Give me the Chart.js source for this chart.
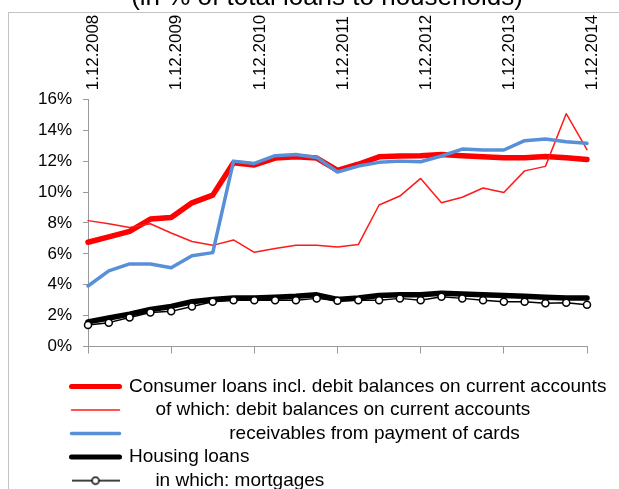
<!DOCTYPE html>
<html>
<head>
<meta charset="utf-8">
<script src="https://cdn.jsdelivr.net/npm/chart.js@4.4.0/dist/chart.umd.min.js"></script>
<style>
  html, body { margin: 0; padding: 0; background: #fff; overflow: hidden; }
  body { width: 619px; height: 489px; position: relative; }
  #frame { position: absolute; left: 8px; top: 12px; width: 700px; height: 600px;
           border-top: 1px solid #c3c3c3; border-left: 1px solid #c3c3c3; }
  #wrap { position: absolute; left: 0; top: -18px; width: 619px; height: 520px; }
</style>
</head>
<body>
<div id="frame"></div>
<div id="wrap"><canvas id="loansChart" width="619" height="520"></canvas></div>
<script>
// quarterly observations, Dec 2008 - Dec 2014
const quarters = [
  "1.12.2008", "1.3.2009", "1.6.2009", "1.9.2009",
  "1.12.2009", "1.3.2010", "1.6.2010", "1.9.2010",
  "1.12.2010", "1.3.2011", "1.6.2011", "1.9.2011",
  "1.12.2011", "1.3.2012", "1.6.2012", "1.9.2012",
  "1.12.2012", "1.3.2013", "1.6.2013", "1.9.2013",
  "1.12.2013", "1.3.2014", "1.6.2014", "1.9.2014",
  "1.12.2014"
];
const yearTicks = ["1.12.2008", "1.12.2009", "1.12.2010", "1.12.2011", "1.12.2012", "1.12.2013", "1.12.2014"];

const consumerLoans = [6.75, 7.1, 7.45, 8.25, 8.35, 9.3, 9.8, 11.9, 11.75, 12.2, 12.28, 12.2, 11.4,
  11.8, 12.28, 12.33, 12.35, 12.43, 12.35, 12.28, 12.22, 12.22, 12.3, 12.22, 12.1];
const debitBalances = [8.15, 7.95, 7.7, 7.95, 7.35, 6.8, 6.55, 6.9, 6.1, 6.35, 6.55, 6.55, 6.45,
  6.6, 9.16, 9.74, 10.88, 9.31, 9.66, 10.26, 9.97, 11.37, 11.66, 15.07, 12.74];
const cardReceivables = [3.92, 4.9, 5.35, 5.35, 5.1, 5.88, 6.08, 12.0, 11.85, 12.35, 12.43, 12.24, 11.3,
  11.68, 11.92, 12.0, 11.96, 12.33, 12.78, 12.72, 12.72, 13.32, 13.43, 13.26, 13.15];
const housingLoans = [1.6, 1.85, 2.1, 2.4, 2.6, 2.9, 3.05, 3.15, 3.15, 3.2, 3.25, 3.35, 3.05,
  3.15, 3.3, 3.35, 3.35, 3.45, 3.4, 3.35, 3.3, 3.25, 3.2, 3.15, 3.15];
const mortgages = [1.4, 1.55, 1.88, 2.2, 2.28, 2.6, 2.9, 3.0, 3.0, 3.0, 3.0, 3.12, 2.97,
  3.0, 3.0, 3.12, 3.0, 3.23, 3.12, 3.0, 2.9, 2.9, 2.8, 2.84, 2.7];

const seriesNames = [
  "Consumer loans incl. debit balances on current accounts",
  "of which: debit balances on current accounts",
  "receivables from payment of cards",
  "Housing loans",
  "in which: mortgages"
];
// indentation as in the original legend (trailing blanks keep one entry per row)
const legendText = [
  seriesNames[0],
  "     " + seriesNames[1],
  "                   " + seriesNames[2],
  seriesNames[3] + "                              ",
  "     " + seriesNames[4]
];

// legend marker for the mortgage series: thin line with an open circle
const mortgageIcon = document.createElement("canvas");
mortgageIcon.width = 48;
mortgageIcon.height = 10;
(function () {
  const c = mortgageIcon.getContext("2d");
  c.strokeStyle = "#000";
  c.lineWidth = 1.5;
  c.beginPath();
  c.moveTo(0, 5);
  c.lineTo(48, 5);
  c.stroke();
  c.fillStyle = "#fff";
  c.beginPath();
  c.arc(24, 5, 3.5, 0, Math.PI * 2);
  c.fill();
  c.stroke();
})();

// let the legend run to the right edge of the canvas, past the plot area
const widenLegend = {
  id: "widenLegend",
  afterLayout(ch) {
    const lg = ch.legend;
    if (!lg) return;
    lg.right = ch.width;
    lg.width = lg.right - lg.left;
  }
};

Chart.defaults.font.family = "'Liberation Sans', Arial, sans-serif";
Chart.defaults.color = "#000";

const axisGray = "#9a9a9a";

const ctx = document.getElementById("loansChart").getContext("2d");
const chart = new Chart(ctx, {
  type: "line",
  plugins: [widenLegend],
  data: {
    labels: quarters,
    datasets: [{
      label: seriesNames[0],
      data: consumerLoans,
      borderColor: "#ff0000",
      borderWidth: 5.5,
      legendWidth: 5,
      order: 5
    }, {
      label: seriesNames[1],
      data: debitBalances,
      borderColor: "#ff1a1a",
      borderWidth: 1.5,
      legendWidth: 1.5,
      order: 4
    }, {
      label: seriesNames[2],
      data: cardReceivables,
      borderColor: "#5890d8",
      borderWidth: 3.5,
      legendWidth: 3.5,
      order: 3
    }, {
      label: seriesNames[3],
      data: housingLoans,
      borderColor: "#000",
      borderWidth: 5.5,
      legendWidth: 5,
      order: 2
    }, {
      label: seriesNames[4],
      data: mortgages,
      borderColor: "#000",
      borderWidth: 1.5,
      legendWidth: 1.5,
      pointRadius: 3.5,
      pointBackgroundColor: "#fff",
      pointBorderColor: "#000",
      pointBorderWidth: 1.5,
      order: 1
    }]
  },
  options: {
    responsive: false,
    animation: false,
    clip: 8,
    layout: {padding: {left: 67, right: 32, top: 0, bottom: 1.9}},
    elements: {
      line: {tension: 0, borderCapStyle: "round", borderJoinStyle: "round"},
      point: {radius: 0}
    },
    scales: {
      x: {
        position: "bottom",
        ticks: {display: false, autoSkip: false},
        grid: {
          drawOnChartArea: false,
          tickLength: 7,
          color: (c) => (yearTicks.includes(quarters[c.index]) ? axisGray : "rgba(0,0,0,0)")
        },
        border: {color: axisGray},
        afterFit: (s) => { s.height = 26; }
      },
      x2: {
        type: "category",
        position: "top",
        labels: quarters,
        grid: {display: false, drawTicks: false},
        border: {display: false},
        ticks: {
          autoSkip: false,
          minRotation: 90,
          maxRotation: 90,
          padding: 9,
          labelOffset: 26,
          font: {size: 17},
          color: "#000",
          callback: (v, i) => (yearTicks.includes(quarters[i]) ? quarters[i] : "")
        },
        afterFit: (s) => { s.height = 86.1; }
      },
      y: {
        min: 0,
        max: 16,
        ticks: {
          stepSize: 2,
          mirror: true,
          crossAlign: "far",
          padding: -50,
          font: {size: 17},
          color: "#000",
          callback: (v) => v + "%"
        },
        grid: {drawOnChartArea: false, tickLength: 5, color: axisGray},
        border: {color: axisGray},
        afterFit: (s) => { s.width = 21; }
      }
    },
    plugins: {
      title: {
        display: true,
        text: "(in % of total loans to households)",
        color: "#000",
        font: {size: 26, weight: "normal"},
        padding: {top: 0, bottom: 0}
      },
      legend: {
        position: "bottom",
        align: "start",
        labels: {
          usePointStyle: true,
          pointStyleWidth: 48,
          padding: 4.5,
          color: "#000",
          font: {size: 19},
          generateLabels: (ch) => ch.data.datasets.map((ds, i) => ({
            text: legendText[i],
            datasetIndex: i,
            strokeStyle: ds.borderColor,
            fillStyle: ds.borderColor,
            lineWidth: ds.legendWidth,
            lineCap: i === 4 ? "butt" : "round",
            pointStyle: i === 4 ? mortgageIcon : "line",
            hidden: false
          }))
        }
      },
      tooltip: {enabled: false}
    }
  }
});
</script>
</body>
</html>
